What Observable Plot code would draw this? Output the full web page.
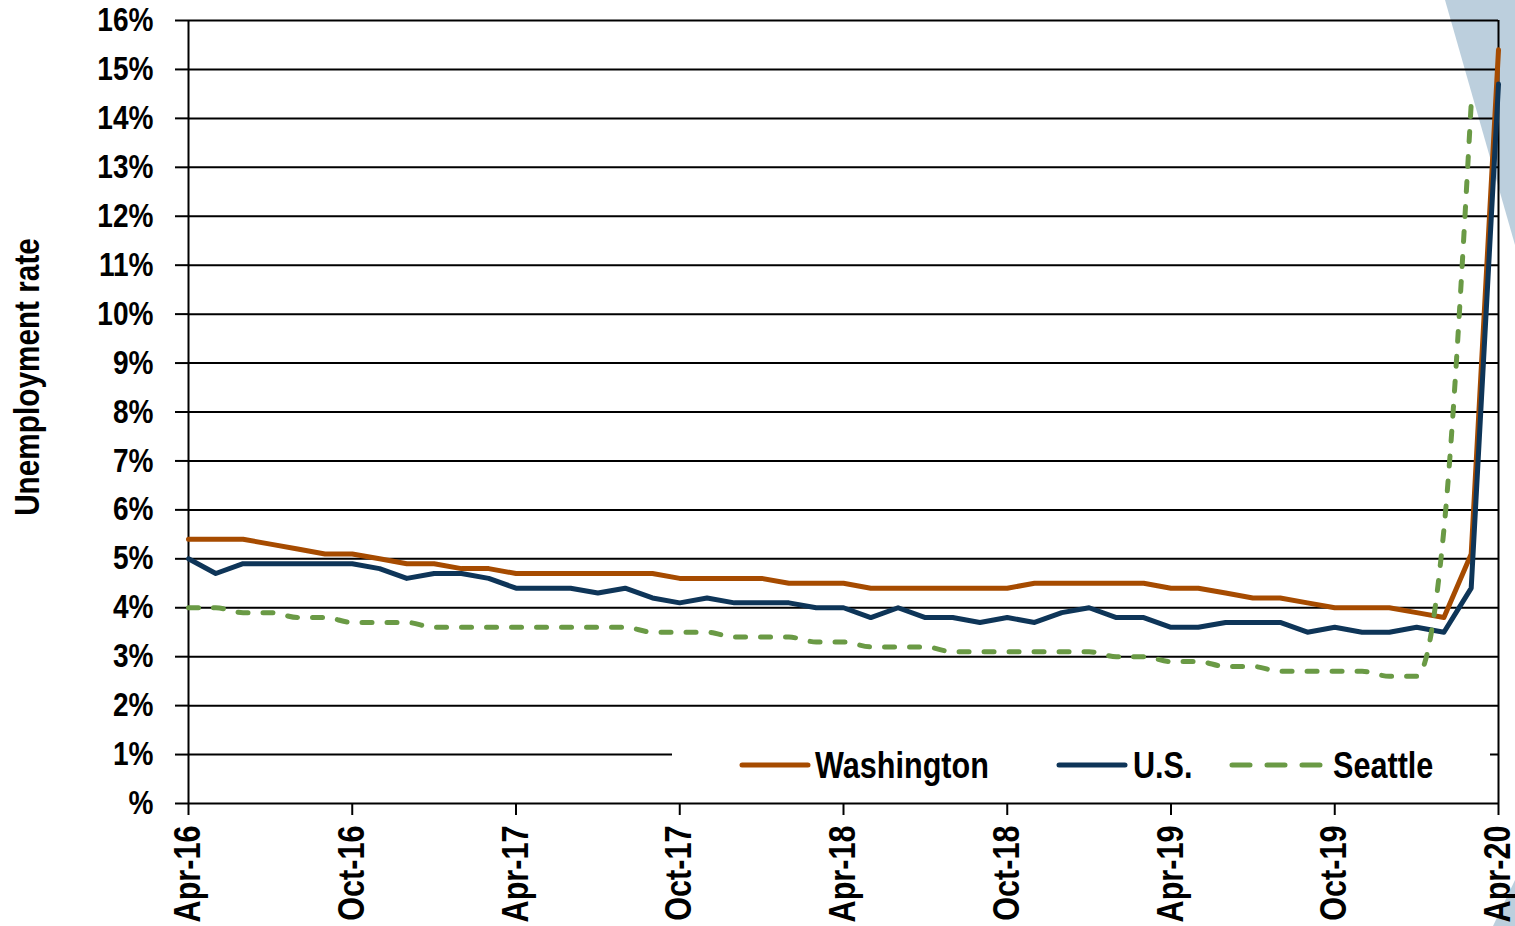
<!DOCTYPE html>
<html>
<head>
<meta charset="utf-8">
<script src="https://cdn.jsdelivr.net/npm/d3@7"></script>
<script src="https://cdn.jsdelivr.net/npm/@observablehq/plot@0.6"></script>
<style>
  body { margin: 0; background: #fff; }
  #wrap { position: relative; width: 1515px; height: 926px; overflow: hidden; }
  .shade { position: absolute; left: 0; top: 0; width: 1515px; height: 926px; background: #bccfdd; }
  #s1 { clip-path: polygon(1445px 0, 1515px 0, 1515px 245px); }
  #s2 { clip-path: polygon(1493px 926px, 1515px 880px, 1515px 926px); }
  #chart { position: absolute; left: 0; top: 0; }
  #legend { position: absolute; left: 672px; top: 732px; }
</style>
</head>
<body>
<div id="wrap">
  <div class="shade" id="s1"></div>
  <div class="shade" id="s2"></div>
  <div id="chart"></div>
  <div id="legend"></div>
</div>
<script>
const FONT = '"Liberation Sans", Arial, sans-serif';
const NARROW = 0.85; // horizontal condensing to mimic Arial Narrow Bold

// x categories: monthly, Apr-16 .. Apr-20 (49 months)
const tickIndex = [0, 6, 12, 18, 24, 30, 36, 42, 48];
const tickLabels = ["Apr-16", "Oct-16", "Apr-17", "Oct-17", "Apr-18", "Oct-18", "Apr-19", "Oct-19", "Apr-20"];
const yTicks = [0, 1, 2, 3, 4, 5, 6, 7, 8, 9, 10, 11, 12, 13, 14, 15, 16];

const seriesNames = ["Washington", "U.S.", "Seattle"];
const seriesColors = ["#a64b00", "#0e3558", "#6a9a45"];

const washington = [5.4, 5.4, 5.4, 5.3, 5.2, 5.1, 5.1, 5.0, 4.9, 4.9, 4.8, 4.8,
  4.7, 4.7, 4.7, 4.7, 4.7, 4.7, 4.6, 4.6, 4.6, 4.6, 4.5, 4.5,
  4.5, 4.4, 4.4, 4.4, 4.4, 4.4, 4.4, 4.5, 4.5, 4.5, 4.5, 4.5,
  4.4, 4.4, 4.3, 4.2, 4.2, 4.1, 4.0, 4.0, 4.0, 3.9, 3.8, 5.1, 15.4];

const us = [5.0, 4.7, 4.9, 4.9, 4.9, 4.9, 4.9, 4.8, 4.6, 4.7, 4.7, 4.6,
  4.4, 4.4, 4.4, 4.3, 4.4, 4.2, 4.1, 4.2, 4.1, 4.1, 4.1, 4.0,
  4.0, 3.8, 4.0, 3.8, 3.8, 3.7, 3.8, 3.7, 3.9, 4.0, 3.8, 3.8,
  3.6, 3.6, 3.7, 3.7, 3.7, 3.5, 3.6, 3.5, 3.5, 3.6, 3.5, 4.4, 14.7];

const seattle = [4.0, 4.0, 3.9, 3.9, 3.8, 3.8, 3.7, 3.7, 3.7, 3.6, 3.6, 3.6,
  3.6, 3.6, 3.6, 3.6, 3.6, 3.5, 3.5, 3.5, 3.4, 3.4, 3.4, 3.3,
  3.3, 3.2, 3.2, 3.2, 3.1, 3.1, 3.1, 3.1, 3.1, 3.1, 3.0, 3.0,
  2.9, 2.9, 2.8, 2.8, 2.7, 2.7, 2.7, 2.7, 2.6, 2.6, 5.6, 14.3];

const yTitle = "Unemployment rate";

const chart = Plot.plot({
  width: 1515,
  height: 926,
  marginLeft: 188,
  marginRight: 17,
  marginTop: 20,
  marginBottom: 123,
  x: { domain: [0, 48], axis: null },
  y: { domain: [0, 16], axis: null },
  style: { background: "transparent", fontFamily: FONT, fontWeight: "bold", color: "#000" },
  marks: [
    Plot.gridY(yTicks, { stroke: "#000", strokeOpacity: 1, strokeWidth: 2 }),
    Plot.axisY({
      ticks: yTicks,
      tickFormat: d => d === 0 ? "%" : d + "%",
      tickSize: 13, tickPadding: 22, strokeWidth: 2,
      fontSize: 33, fontWeight: "bold", fontFamily: FONT, fill: "#000",
      label: null
    }),
    Plot.axisX({
      ticks: tickIndex,
      tickFormat: d => tickLabels[tickIndex.indexOf(d)],
      tickRotate: -90, tickSize: 12, tickPadding: 10, strokeWidth: 2,
      fontSize: 36, fontWeight: "bold", fontFamily: FONT, fill: "#000",
      label: null
    }),
    Plot.ruleX([0, 48], { stroke: "#000", strokeWidth: 2 }),
    Plot.lineY(washington, { x: (d, i) => i, y: d => d, stroke: seriesColors[0], strokeWidth: 5, strokeLinejoin: "round" }),
    Plot.lineY(us, { x: (d, i) => i, y: d => d, stroke: seriesColors[1], strokeWidth: 5, strokeLinejoin: "round" }),
    Plot.lineY(seattle, { x: (d, i) => i, y: d => d, stroke: seriesColors[2], strokeWidth: 5,
      strokeDasharray: "10,15", strokeLinecap: "round", curve: "monotone-x" }),
    Plot.text([yTitle], { frameAnchor: "left", rotate: -90, dx: -161, dy: -35, textAnchor: "middle",
      fontSize: 35, fontWeight: "bold", fontFamily: FONT, fill: "#000" })
  ]
});
document.getElementById("chart").appendChild(chart);

// Legend (overlay inside the plot area, white box)
const legendItems = [
  { name: seriesNames[0], color: seriesColors[0], dash: null, x0: 70, x1: 136, tx: 143 },
  { name: seriesNames[1], color: seriesColors[1], dash: null, x0: 387, x1: 453, tx: 461 },
  { name: seriesNames[2], color: seriesColors[2], dash: "18,17", x0: 560, x1: 648, tx: 661 }
];
const lsvg = d3.select("#legend").append("svg").attr("width", 818).attr("height", 60)
  .style("display", "block").style("background", "#fff");
const g = lsvg.selectAll("g").data(legendItems).join("g");
g.append("line").attr("x1", d => d.x0).attr("x2", d => d.x1).attr("y1", 33).attr("y2", 33)
  .attr("stroke", d => d.color).attr("stroke-width", 5).attr("stroke-linecap", "round")
  .attr("stroke-dasharray", d => d.dash);
g.append("text").attr("x", d => d.tx).attr("y", 46).text(d => d.name)
  .attr("font-family", FONT).attr("font-weight", "bold").attr("font-size", 36).attr("fill", "#000");

// Condense all texts horizontally (along the text direction)
document.querySelectorAll("#wrap svg text").forEach(t => {
  const L = t.getComputedTextLength();
  if (L > 0) {
    t.setAttribute("textLength", (L * NARROW).toFixed(2));
    t.setAttribute("lengthAdjust", "spacingAndGlyphs");
  }
});
</script>
</body>
</html>
